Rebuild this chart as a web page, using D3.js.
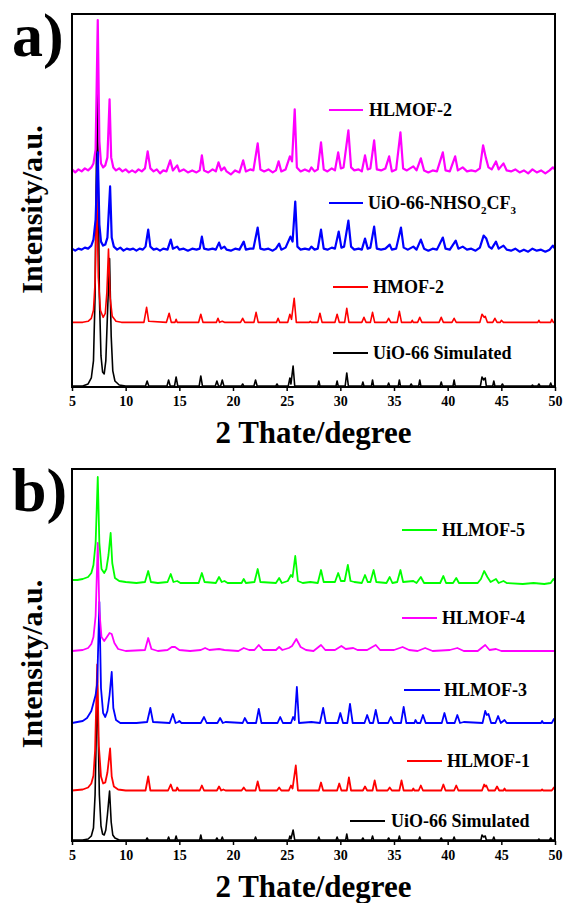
<!DOCTYPE html>
<html>
<head>
<meta charset="utf-8">
<script src="https://cdn.jsdelivr.net/npm/d3@7"></script>
<style>
  body { margin: 0; background: #fff; }
  svg { display: block; }
  text { font-family: "Times New Roman", "Liberation Serif", serif; font-weight: bold; }
</style>
</head>
<body>
<div class="container"></div>
<script>
// 2theta range + ticks
const xTicks = [5, 10, 15, 20, 25, 30, 35, 40, 45, 50]

// ---- panel a ----
const labelsA = ['UiO-66 Simulated', 'HMOF-2', 'UiO-66-NHSO_2CF_3', 'HLMOF-2']
const colorsA = ['#000000', '#ff0000', '#0000ff', '#ff00ff']
const offsetsA = [1, 64.5, 137, 215]

const uio66SimA = [[5,0],[6,0],[6.5,2],[6.8,8],[7.0,25],[7.15,90],[7.35,310],[7.55,90],[7.7,30],[7.85,14],[8.0,12],[8.15,25],[8.3,70],[8.5,127],[8.65,50],[8.8,15],[9.0,5],[9.4,1],[10,0],[11.85,0],[12.0,5],[12.15,0],[13.85,0],[14.0,6],[14.15,0],[14.55,0],[14.7,9],[14.85,0],[16.85,0],[17.0,10],[17.15,0],[18.35,0],[18.5,5],[18.65,0],[18.85,0],[19.0,6],[19.15,0],[20.8,0],[20.9,2],[21.0,0],[21.95,0],[22.1,6],[22.25,0],[24.0,0],[24.1,2],[24.2,0],[25.15,0],[25.3,8],[25.4,2],[25.6,20],[25.75,0],[27.9,0],[28.0,5],[28.1,0],[29.6,0],[29.7,5],[29.8,0],[30.45,0],[30.6,13],[30.75,0],[32.0,0],[32.1,4],[32.2,0],[32.9,0],[33.0,6],[33.1,0],[34.4,0],[34.5,3],[34.6,0],[35.4,0],[35.5,6],[35.6,0],[36.5,0],[36.6,2],[36.7,0],[37.3,0],[37.4,6],[37.5,0],[39.3,0],[39.4,4],[39.5,0],[40.5,0],[40.6,6],[40.7,0],[43.05,0],[43.2,9],[43.35,6],[43.5,8],[43.6,0],[44.2,0],[44.3,5],[44.4,0],[45.0,0],[45.1,2],[45.2,0],[47.8,0],[47.9,1],[48.0,0],[48.4,0],[48.5,2],[48.6,0],[49.5,0],[49.6,3],[49.7,0],[50,0]]

const hmof2 = [[5,0],[6,0],[6.5,1],[6.8,4],[7.0,12],[7.15,40],[7.3,138],[7.45,45],[7.65,12],[7.9,5],[8.1,9],[8.25,30],[8.4,73],[8.55,25],[8.75,6],[9.1,1],[9.6,0],[11.7,0],[11.95,15],[12.15,1],[13.8,0],[14.05,9],[14.25,0],[14.6,0],[14.7,3],[14.8,0],[16.8,0],[17.0,8],[17.2,0],[18.45,0],[18.6,4],[18.75,0],[19.0,1],[19.2,0],[20.7,0],[20.9,4],[21.1,0],[21.95,0],[22.15,10],[22.35,0],[24.05,0],[24.2,4],[24.35,0],[25.1,0],[25.3,8],[25.45,3],[25.7,24],[25.9,0],[27.1,0],[27.2,1],[27.3,0],[27.9,0],[28.1,9],[28.3,0],[29.5,0],[29.7,8],[29.9,0],[30.4,0],[30.6,14],[30.8,0],[32.0,0],[32.2,5],[32.4,0],[32.8,0],[33.0,10],[33.2,0],[34.3,0],[34.5,4],[34.7,0],[35.3,0],[35.5,11],[35.7,0],[36.6,0],[36.7,2],[36.8,0],[37.2,0],[37.4,5],[37.6,0],[39.2,0],[39.4,5],[39.6,0],[40.4,0],[40.6,4],[40.8,0],[43.0,0],[43.2,8],[43.4,5],[43.5,6],[43.7,0],[44.2,0],[44.4,4],[44.6,0],[44.9,0],[45.0,2],[45.2,0],[48.4,0],[48.5,2],[48.6,0],[49.6,0],[49.7,3],[49.85,0],[50,0]]

const uio66NHSO2CF3 = [[5.0,1],[5.3,-1],[5.6,1],[5.9,0],[6.2,2],[6.5,1],[6.8,4],[7.0,10],[7.2,30],[7.4,97],[7.55,25],[7.7,8],[7.9,4],[8.1,5],[8.3,12],[8.55,63],[8.7,12],[8.9,3],[9.2,0],[9.5,2],[9.8,-1],[10.1,1],[10.4,0],[10.7,1],[11.0,-1],[11.3,1],[11.6,0],[11.85,3],[12.1,20],[12.3,3],[12.6,0],[12.9,1],[13.2,-1],[13.5,1],[13.9,0],[14.2,10],[14.4,1],[14.8,3],[15.0,0],[15.4,1],[15.8,-1],[16.2,1],[16.6,0],[16.9,1],[17.1,13],[17.3,1],[17.7,0],[18.1,1],[18.4,0],[18.7,7],[18.9,1],[19.2,3],[19.4,0],[19.8,-1],[20.2,1],[20.6,0],[21.0,8],[21.2,0],[21.6,1],[21.9,1],[22.3,22],[22.55,1],[22.9,0],[23.3,1],[23.7,-1],[24.0,1],[24.3,6],[24.5,0],[24.9,2],[25.35,13],[25.55,8],[25.8,48],[26.0,3],[26.3,0],[26.7,1],[27.1,0],[27.3,3],[27.6,0],[27.9,1],[28.2,20],[28.45,1],[28.8,0],[29.2,2],[29.5,1],[29.85,18],[30.1,2],[30.35,3],[30.75,29],[31.0,3],[31.3,0],[31.7,1],[32.0,0],[32.3,11],[32.55,1],[32.8,2],[33.15,23],[33.4,1],[33.8,0],[34.2,1],[34.6,5],[34.8,0],[35.2,1],[35.65,22],[35.9,2],[36.3,0],[36.8,3],[37.1,0],[37.5,10],[37.8,1],[38.2,-1],[38.6,1],[39.0,0],[39.55,12],[39.8,1],[40.2,0],[40.75,9],[41.0,1],[41.4,3],[41.8,0],[42.2,1],[42.6,-1],[43.0,2],[43.35,14],[43.6,11],[43.85,3],[44.1,1],[44.5,8],[44.75,1],[45.2,4],[45.5,0],[45.9,-1],[46.3,1],[46.7,-2],[47.1,0],[47.5,-2],[47.9,1],[48.3,-1],[48.7,0],[49.1,-2],[49.5,0],[49.8,4],[50.0,1]]

const hlmof2 = [[5.0,2],[5.3,-1],[5.6,2],[5.9,0],[6.2,3],[6.5,1],[6.8,4],[7.0,8],[7.2,22],[7.4,151],[7.55,30],[7.7,8],[7.9,4],[8.1,6],[8.3,14],[8.5,72],[8.65,14],[8.85,4],[9.1,1],[9.4,3],[9.7,0],[10.0,2],[10.3,-1],[10.6,1],[10.9,-1],[11.2,2],[11.5,0],[11.8,3],[12.05,20],[12.3,3],[12.6,0],[12.9,2],[13.2,-2],[13.5,1],[13.8,0],[14.15,11],[14.4,1],[14.8,6],[15.0,0],[15.4,2],[15.8,-1],[16.2,1],[16.6,-1],[16.9,1],[17.1,16],[17.3,1],[17.7,-1],[18.1,2],[18.4,0],[18.65,9],[18.9,1],[19.2,4],[19.4,0],[19.8,-3],[20.2,1],[20.6,-1],[20.95,11],[21.2,0],[21.6,2],[21.9,1],[22.3,28],[22.55,2],[22.9,0],[23.3,2],[23.7,-1],[24.0,1],[24.25,10],[24.5,0],[24.9,2],[25.3,15],[25.5,10],[25.75,62],[25.95,4],[26.3,0],[26.7,2],[27.1,0],[27.3,4],[27.6,0],[27.9,2],[28.2,29],[28.45,2],[28.8,0],[29.2,3],[29.5,1],[29.8,19],[30.05,3],[30.3,4],[30.75,41],[31.0,4],[31.3,1],[31.7,2],[32.0,0],[32.3,16],[32.55,2],[32.8,3],[33.15,31],[33.4,2],[33.8,1],[34.2,3],[34.55,15],[34.8,0],[35.2,2],[35.6,39],[35.85,3],[36.2,1],[36.8,5],[37.1,1],[37.5,13],[37.8,1],[38.2,-1],[38.6,1],[39.0,0],[39.55,19],[39.8,1],[40.2,0],[40.7,15],[40.95,1],[41.4,4],[41.8,0],[42.2,1],[42.6,0],[43.0,3],[43.3,26],[43.55,14],[43.8,4],[44.1,2],[44.5,10],[44.75,2],[45.2,8],[45.5,1],[45.9,0],[46.3,2],[46.7,-1],[47.1,1],[47.5,-2],[47.9,2],[48.3,-1],[48.7,1],[49.1,-2],[49.5,1],[49.8,4],[50.0,2]]

// ---- panel b ----
const labelsB = ['UiO-66 Simulated', 'HLMOF-1', 'HLMOF-3', 'HLMOF-4', 'HLMOF-5']
const colorsB = ['#000000', '#ff0000', '#0000ff', '#ff00ff', '#00ff00']
const offsetsB = [1, 50.5, 118, 190, 258]

const uio66SimB = [[5,0],[6,0],[6.5,1],[6.8,4],[7.0,12],[7.15,45],[7.35,156],[7.55,45],[7.7,14],[7.85,6],[8.0,5],[8.15,10],[8.3,25],[8.5,49],[8.65,18],[8.8,5],[9.0,2],[9.4,0],[11.9,0],[12.0,2],[12.1,0],[13.9,0],[14.0,3],[14.1,0],[14.6,0],[14.7,4],[14.8,0],[16.9,0],[17.0,5],[17.1,0],[18.4,0],[18.5,2],[18.6,0],[18.9,0],[19.0,3],[19.1,0],[22.0,0],[22.1,3],[22.2,0],[25.2,0],[25.3,4],[25.4,1],[25.6,10],[25.75,0],[27.9,0],[28.0,3],[28.1,0],[29.6,0],[29.7,3],[29.8,0],[30.5,0],[30.6,6],[30.7,0],[32.0,0],[32.1,2],[32.2,0],[32.9,0],[33.0,4],[33.1,0],[34.4,0],[34.5,2],[34.6,0],[35.4,0],[35.5,4],[35.6,0],[37.3,0],[37.4,3],[37.5,0],[39.3,0],[39.4,2],[39.5,0],[40.5,0],[40.6,3],[40.7,0],[43.1,0],[43.2,5],[43.35,3],[43.5,4],[43.6,0],[44.2,0],[44.3,3],[44.4,0],[48.4,0],[48.5,1],[48.6,0],[49.5,0],[49.6,2],[49.7,0],[50,0]]

const hlmof1 = [[5.0,0],[6.0,1],[6.5,3],[6.8,7],[7.0,15],[7.15,40],[7.35,126],[7.5,45],[7.7,14],[7.9,7],[8.1,8],[8.3,18],[8.55,42],[8.7,14],[8.9,4],[9.3,1],[10,0],[11.85,0],[12.1,14],[12.3,0],[13.95,0],[14.2,6],[14.4,0],[14.7,0],[14.8,3],[14.95,0],[16.9,0],[17.1,5],[17.3,0],[18.5,0],[18.7,4],[18.9,0],[19.1,1],[19.3,0],[20.8,0],[21.0,3],[21.2,0],[22.1,0],[22.3,9],[22.5,0],[24.1,0],[24.3,3],[24.5,0],[25.2,0],[25.4,5],[25.55,2],[25.85,25],[26.05,0],[28.0,0],[28.2,8],[28.4,0],[29.7,0],[29.9,7],[30.1,0],[30.6,0],[30.8,13],[31.0,0],[32.1,0],[32.3,4],[32.5,0],[33.0,0],[33.2,10],[33.4,0],[34.4,0],[34.6,3],[34.8,0],[35.5,0],[35.7,10],[35.9,0],[36.7,0],[36.8,2],[36.9,0],[37.3,0],[37.5,5],[37.7,0],[39.4,0],[39.6,6],[39.8,0],[40.6,0],[40.8,5],[41.0,0],[43.2,0],[43.4,6],[43.5,4],[43.6,5],[43.8,0],[44.4,0],[44.6,4],[44.8,0],[45.2,0],[45.3,2],[45.4,0],[48.7,0],[48.8,1],[48.9,0],[49.7,0],[49.9,3],[50,1]]

const hlmof3 = [[5.0,0],[5.5,1],[6.0,2],[6.4,5],[6.8,12],[7.0,20],[7.2,28],[7.35,40],[7.55,121],[7.7,35],[7.9,10],[8.1,6],[8.3,12],[8.5,28],[8.7,51],[8.85,15],[9.1,3],[9.5,0],[11,0],[12.0,1],[12.3,15],[12.55,1],[14.1,0],[14.4,9],[14.65,0],[14.9,1],[15.0,2],[15.2,0],[17.0,0],[17.3,6],[17.55,0],[18.55,0],[18.8,5],[19.05,0],[19.3,1],[20.9,0],[21.1,5],[21.35,0],[22.15,0],[22.4,14],[22.65,0],[24.15,0],[24.4,6],[24.65,0],[25.4,0],[25.6,6],[25.75,3],[25.95,36],[26.15,0],[27.3,1],[28.1,0],[28.4,15],[28.65,0],[29.75,0],[30.0,10],[30.25,0],[30.65,0],[30.9,19],[31.15,0],[32.25,0],[32.5,8],[32.75,0],[33.05,0],[33.3,13],[33.55,0],[34.45,0],[34.7,6],[34.95,0],[35.65,0],[35.9,16],[36.15,0],[36.9,0],[37.0,3],[37.15,0],[37.45,0],[37.7,8],[37.95,0],[39.45,0],[39.7,10],[39.95,0],[40.65,0],[40.9,8],[41.15,0],[41.5,1],[43.25,0],[43.5,12],[43.65,8],[43.8,9],[44.05,0],[44.45,0],[44.7,7],[44.95,0],[45.3,3],[45.5,0],[48.7,0],[48.8,2],[48.9,0],[49.7,0],[49.9,4],[50,2]]

const hlmof4 = [[5.0,0],[6.0,1],[6.5,3],[6.8,7],[7.0,14],[7.2,35],[7.4,108],[7.55,40],[7.75,14],[8.0,10],[8.25,14],[8.5,18],[8.7,17],[8.95,8],[9.3,2],[10,0],[11.8,1],[12.1,13],[12.4,2],[13,0],[13.9,1],[14.3,4],[14.6,4],[15.0,1],[16,0],[17.0,1],[17.4,3],[17.8,1],[18.7,2],[19.2,1],[20.5,0],[21.0,3],[21.5,1],[22.0,1],[22.4,6],[22.8,1],[24.0,1],[24.3,4],[24.6,1],[25.2,3],[25.5,5],[25.9,12],[26.3,4],[26.8,1],[27.5,0],[28.2,6],[28.6,1],[29.5,1],[30.1,5],[30.5,2],[31.2,3],[31.6,1],[32.5,1],[33.3,6],[33.7,1],[35.0,1],[35.8,4],[36.4,1],[37.2,0],[37.9,3],[38.6,0],[40.2,1],[40.9,3],[41.5,0],[42.8,0],[43.5,6],[43.9,1],[44.5,2],[45,0],[47,0],[50,0]]

const hlmof5 = [[5.0,3],[5.5,3],[6.0,4],[6.5,6],[6.8,10],[7.0,18],[7.2,40],[7.4,106],[7.55,40],[7.75,14],[8.0,10],[8.2,14],[8.4,28],[8.6,50],[8.75,20],[9.0,5],[9.4,2],[10,1],[11,0],[11.8,1],[12.1,12],[12.35,1],[13,0],[13.9,1],[14.2,9],[14.45,1],[14.8,2],[15.1,0],[16.8,0],[17.1,10],[17.35,1],[18.4,0],[18.7,6],[18.95,1],[19.2,2],[19.5,0],[20.8,0],[21.0,4],[21.2,0],[22.0,1],[22.3,14],[22.55,1],[24.0,0],[24.3,5],[24.55,0],[25.1,2],[25.4,8],[25.55,6],[25.8,27],[26.05,2],[26.5,0],[27.2,1],[27.9,0],[28.2,13],[28.45,1],[29.5,1],[29.8,10],[30.05,2],[30.4,2],[30.7,18],[30.95,2],[31.3,1],[32.0,0],[32.3,8],[32.55,1],[32.8,1],[33.1,13],[33.35,1],[34.3,0],[34.6,6],[34.85,0],[35.3,1],[35.6,13],[35.85,1],[36.8,2],[37.1,0],[37.5,6],[37.8,0],[39.3,0],[39.6,7],[39.85,0],[40.5,0],[40.8,5],[41.05,0],[42.8,0],[43.1,4],[43.4,12],[43.7,6],[44.0,1],[44.5,4],[44.75,0],[45.2,2],[45.5,0],[47,-1],[48,0],[49,-1],[49.6,0],[49.85,4],[50,2]]

const W = 567, H = 903
const margin = {left: 72, right: 12}

const svg = d3.select('.container')
    .append('svg')
    .attr('width', W)
    .attr('height', H)

const xScale = d3.scaleLinear()
    .domain([5, 50])
    .range([margin.left, W - margin.right])

const drawPanel = (p) => {
    const yScale = d3.scaleLinear()
        .domain([0, 372])
        .range([p.bottom, p.top])

    const g = svg.append('g')

    // x axis
    g.append('g')
        .attr('transform', `translate(0, ${p.bottom})`)
        .call(d3.axisBottom(xScale).tickValues(xTicks).tickSize(4).tickPadding(5).tickFormat(d3.format('d')))
        .call(a => a.select('.domain').remove())
        .call(a => a.selectAll('line').attr('stroke-width', 1.5))
        .call(a => a.selectAll('text')
            .attr('font-size', 14)
            .attr('font-family', '"Times New Roman", "Liberation Serif", serif')
            .attr('font-weight', 'bold')
            .attr('fill', '#000'))

    const line = d3.line()
        .x(d => xScale(d[0]))

    p.series.forEach((s, i) => {
        line.y(d => yScale(d[1] + p.offsets[i]))
        g.append('path')
            .datum(s)
            .attr('fill', 'none')
            .attr('stroke', p.colors[i])
            .attr('stroke-width', p.widths[i])
            .attr('stroke-linejoin', 'round')
            .attr('d', line)
    })

    // frame
    g.append('rect')
        .attr('x', xScale(5))
        .attr('y', p.top)
        .attr('width', xScale(50) - xScale(5))
        .attr('height', p.bottom - p.top)
        .attr('fill', 'none')
        .attr('stroke', '#000')
        .attr('stroke-width', 2)

    // legend
    p.legend.forEach((l, i) => {
        g.append('line')
            .attr('x1', l[0]).attr('x2', l[1])
            .attr('y1', l[2]).attr('y2', l[2])
            .attr('stroke', p.colors[i])
            .attr('stroke-width', 2)
        const t = g.append('text')
            .attr('x', l[3])
            .attr('y', l[2] + 6)
            .attr('font-size', 18)
        p.labels[i].split('_').forEach((part, k) => {
            if (k === 0) { t.append('tspan').text(part); return }
            t.append('tspan').attr('font-size', 11).attr('dy', 5).text(part[0])
            t.append('tspan').attr('dy', -5).text(part.slice(1))
        })
    })

    g.append('text')
        .attr('x', 12)
        .attr('y', p.tagY)
        .attr('font-size', 62)
        .text(p.tag)

    g.append('text')
        .attr('transform', `translate(42, ${(p.top + p.bottom) / 2 + 9}) rotate(-90)`)
        .attr('text-anchor', 'middle')
        .attr('font-size', 30)
        .text('Intensity/a.u.')

    g.append('text')
        .attr('x', (xScale(5) + xScale(50)) / 2)
        .attr('y', p.bottom + 56)
        .attr('text-anchor', 'middle')
        .attr('font-size', 31)
        .text('2 Thate/degree')
}

drawPanel({
    tag: 'a)', tagY: 56, top: 14, bottom: 387,
    series: [uio66SimA, hmof2, uio66NHSO2CF3, hlmof2],
    offsets: offsetsA, colors: colorsA, labels: labelsA,
    widths: [1.6, 1.6, 2.2, 2.2],
    legend: [[333, 368, 353, 373], [333, 368, 287, 373], [329, 363, 203, 368], [329, 363, 110, 369]]
})

drawPanel({
    tag: 'b)', tagY: 511, top: 469, bottom: 841,
    series: [uio66SimB, hlmof1, hlmof3, hlmof4, hlmof5],
    offsets: offsetsB, colors: colorsB, labels: labelsB,
    widths: [1.6, 1.8, 1.8, 1.8, 1.8],
    legend: [[350, 385, 821, 391], [407, 442, 761, 447], [404, 440, 690, 444], [402, 437, 618, 442], [402, 437, 530, 442]]
})
</script>
</body>
</html>
